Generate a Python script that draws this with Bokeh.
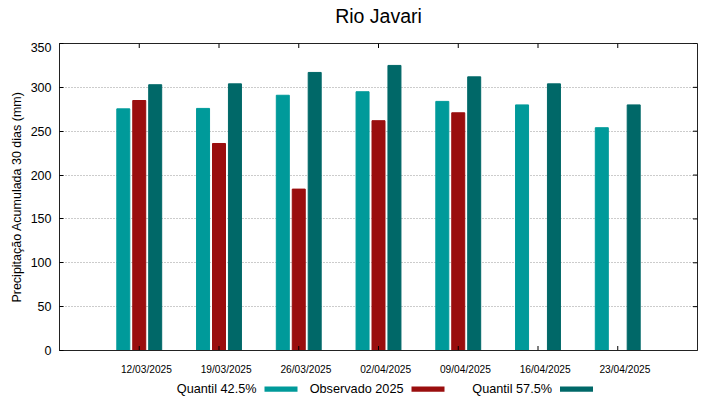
from bokeh.plotting import figure
from bokeh.layouts import column
from bokeh.models import (ColumnDataSource, Range1d, LinearAxis, FixedTicker, Grid)
from bokeh.core.properties import value
from bokeh.transform import dodge
from bokeh.embed import file_html
from bokeh.resources import INLINE

# ---- data ----
title_text = "Rio Javari"
dates = ["12/03/2025", "19/03/2025", "26/03/2025", "02/04/2025",
         "09/04/2025", "16/04/2025", "23/04/2025"]
q425 = [275.5, 276, 291, 295, 284, 280, 254]
obs2025 = [285, 236, 184, 262, 271]          # observed only for first 5 weeks
q575 = [303, 304, 317, 325, 312, 304, 280]
series_names = ["Quantil 42.5%", "Observado 2025", "Quantil 57.5%"]
y_ticks = list(range(0, 351, 50))

C_LO, C_OBS, C_HI = "#009a9a", "#9a0e0e", "#006868"
FONT = "Liberation Sans"
YMAX = 350

xs = list(range(1, len(dates) + 1))
XMAX = len(dates) + 1
src = ColumnDataSource(dict(x=xs, lo=q425, hi=q575))
src_obs = ColumnDataSource(dict(x=xs[:len(obs2025)], obs=obs2025))

W = 719
FR_L, FR_R = 59, 697   # frame edges in page pixels
H_TOP, H_MAIN, H_LEG = 42, 336, 21


def strip(height):
    """A bare figure used for text outside the chart frame; the column layout
    aligns its frame with the chart frame, so x is given in page pixels."""
    f = figure(width=W, height=height, output_backend="svg", toolbar_location=None,
               title=None, x_range=Range1d(FR_L, FR_R), y_range=Range1d(height, 0),
               x_axis_location=None, y_axis_location=None,
               min_border_left=FR_L, min_border_right=W - FR_R,
               min_border_top=0, min_border_bottom=0)
    f.outline_line_color = None
    f.xgrid.visible = False
    f.ygrid.visible = False
    return f


# ---- title strip ----
top = strip(H_TOP)
top.text(x=[(FR_L + FR_R) / 2], y=[15], text=[title_text], text_align="center",
         text_baseline="alphabetic", text_font=value(FONT), text_font_size="19.5px",
         text_color="black")

# ---- chart ----
p = figure(width=W, height=H_MAIN, output_backend="svg", toolbar_location=None,
           title=None, x_range=Range1d(0, XMAX), y_range=Range1d(0, YMAX),
           x_axis_location=None, y_axis_location=None,
           min_border_left=FR_L, min_border_right=W - FR_R, min_border_top=1,
           min_border_bottom=28)
p.xgrid.visible = False
p.ygrid.visible = False
p.outline_line_color = "#222222"
p.outline_line_width = 1

yticker = FixedTicker(ticks=y_ticks)

p.add_layout(Grid(dimension=1, ticker=yticker, grid_line_color="#999999",
                  grid_line_dash="1 2", grid_line_width=1))

BW = 0.163
p.vbar(x=dodge("x", -0.2), top="lo", width=BW, bottom=0, source=src,
       fill_color=C_LO, line_color=C_LO)
p.vbar(x="x", top="obs", width=BW, bottom=0, source=src_obs,
       fill_color=C_OBS, line_color=C_OBS)
p.vbar(x=dodge("x", 0.2), top="hi", width=BW, bottom=0, source=src,
       fill_color=C_HI, line_color=C_HI)

# inward tick marks on bottom, top and right edges (length ~4-5 px)
tx = 4.5 * YMAX / 307
ty = 4.5 * XMAX / 638
p.segment(x0=xs, x1=xs, y0=[0] * len(xs), y1=[tx] * len(xs), line_color="black", line_width=1)
p.segment(x0=xs, x1=xs, y0=[YMAX] * len(xs), y1=[YMAX - tx] * len(xs), line_color="black", line_width=1)
p.segment(x0=[XMAX] * len(y_ticks), x1=[XMAX - ty] * len(y_ticks), y0=y_ticks, y1=y_ticks,
          line_color="black", line_width=1)

left = LinearAxis(ticker=yticker, major_tick_in=4, major_tick_out=0,
                  minor_tick_line_color=None, major_label_standoff=8,
                  major_label_text_font=FONT, major_label_text_font_size="12.5px",
                  major_label_text_color="black", axis_line_color="#222222",
                  axis_label="Precipitação Acumulada 30 dias (mm)",
                  axis_label_text_font=FONT, axis_label_text_font_size="12.5px",
                  axis_label_text_font_style="normal", axis_label_standoff=4,
                  axis_label_text_color="black")
p.add_layout(left, "left")

shift = 0.09
lab_ticks = [round(x + shift, 2) for x in xs]
lab_axis = LinearAxis(ticker=FixedTicker(ticks=lab_ticks),
                      major_label_overrides={t: d for t, d in zip(lab_ticks, dates)},
                      axis_line_color="#222222", major_tick_line_color=None,
                      minor_tick_line_color=None, major_label_standoff=7,
                      major_label_text_font=FONT, major_label_text_font_size="10.2px",
                      major_label_text_color="black")
p.add_layout(lab_axis, "below")

# ---- legend strip: name followed by its colour sample ----
leg = strip(H_LEG)
text_right = [256, 403, 551.5]
leg.text(x=text_right, y=[10.8] * 3, text=series_names, text_align="right",
         text_baseline="alphabetic", text_font=value(FONT), text_font_size="12.7px",
         text_color="black")
leg.quad(left=[t + 8 for t in text_right], right=[t + 41 for t in text_right],
         top=[8] * 3, bottom=[13.3] * 3, fill_color=[C_LO, C_OBS, C_HI], line_color=None)

layout = column(top, p, leg, spacing=0)
open("out.html", "w").write(file_html(layout, INLINE))
